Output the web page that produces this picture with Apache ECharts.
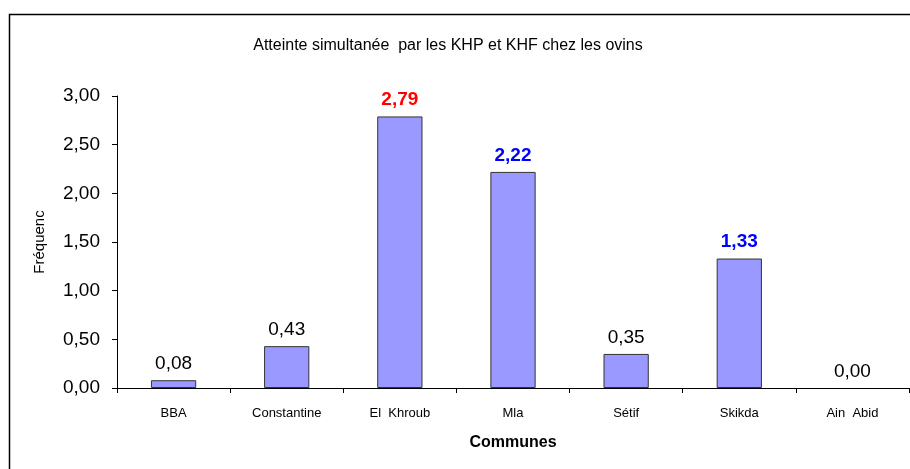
<!DOCTYPE html>
<html>
<head>
<meta charset="utf-8">
<script src="https://cdn.jsdelivr.net/npm/echarts@6/dist/echarts.min.js"></script>
<style>
  html, body { margin: 0; padding: 0; background: #fff; }
  #chart { width: 910px; height: 469px; }
</style>
</head>
<body>
<div id="chart"></div>
<script>
// données
var communes = ['BBA', 'Constantine', 'El  Khroub', 'Mla', 'Sétif', 'Skikda', 'Ain  Abid'];
var frequences = [0.08, 0.43, 2.79, 2.22, 0.35, 1.33, 0.00];
var yTicks = [0, 0.5, 1, 1.5, 2, 2.5, 3];

// couleur des étiquettes mises en évidence
var highlight = { 'El  Khroub': '#FF0000', 'Mla': '#0000FF', 'Skikda': '#0000FF' };

function fr(v) { return v.toFixed(2).replace('.', ','); }

var chart = echarts.init(document.getElementById('chart'));

var barData = frequences.map(function (v, i) {
  var c = highlight[communes[i]];
  var item = { value: v };
  if (c) {
    item.label = { color: c, fontWeight: 'bold' };
  }
  if (v === 0) {
    item.itemStyle = { borderWidth: 0 }; // pas de trait pour une barre nulle
  }
  return item;
});

chart.setOption({
  animation: false,
  backgroundColor: '#fff',
  title: {
    text: 'Atteinte simultanée  par les KHP et KHF chez les ovins',
    left: 443,
    textAlign: 'center',
    top: 33,
    textStyle: { fontFamily: 'Liberation Sans, Arial', fontSize: 16, fontWeight: 'normal', color: '#000', letterSpacing: -0.3 }
  },
  grid: { left: 117, right: 1, top: 96, bottom: 81 },
  xAxis: {
    type: 'category',
    data: communes,
    name: 'Communes',
    nameLocation: 'middle',
    nameGap: 47,
    nameTextStyle: { fontFamily: 'Liberation Sans, Arial', fontSize: 16, fontWeight: 'bold', color: '#000' },
    axisLine: { lineStyle: { color: '#000', width: 1 } },
    axisTick: { show: true, length: 5, inside: false, alignWithLabel: false, lineStyle: { color: '#000' } },
    axisLabel: { margin: 19, fontFamily: 'Liberation Sans, Arial', fontSize: 13, color: '#000', letterSpacing: -0.4 }
  },
  yAxis: {
    type: 'value',
    min: yTicks[0],
    max: yTicks[yTicks.length - 1],
    interval: yTicks[1] - yTicks[0],
    name: 'Fréquenc',
    nameLocation: 'middle',
    nameRotate: 90,
    nameGap: 70,
    nameTextStyle: { fontFamily: 'Liberation Sans, Arial', fontSize: 15, color: '#000' },
    axisLine: { show: true, lineStyle: { color: '#000', width: 1 } },
    axisTick: { show: true, length: 5, lineStyle: { color: '#000' } },
    splitLine: { show: false },
    axisLabel: {
      margin: 17,
      fontFamily: 'Liberation Sans, Arial',
      fontSize: 19,
      color: '#000',
      formatter: function (v) { return fr(v); }
    }
  },
  series: [{
    type: 'bar',
    data: barData,
    barWidth: '40%',
    itemStyle: { color: '#9999FF', borderColor: '#333333', borderWidth: 1 },
    label: {
      show: true,
      position: 'top',
      distance: 7,
      fontFamily: 'Liberation Sans, Arial',
      fontSize: 19,
      color: '#000',
      formatter: function (p) { return fr(p.value); }
    }
  }],
  graphic: [{
    type: 'polyline',
    shape: { points: [[9.5, 469], [9.5, 14.5], [910, 14.5]] },
    style: { stroke: '#000', lineWidth: 1.5, fill: null },
    silent: true
  }]
});
</script>
</body>
</html>
